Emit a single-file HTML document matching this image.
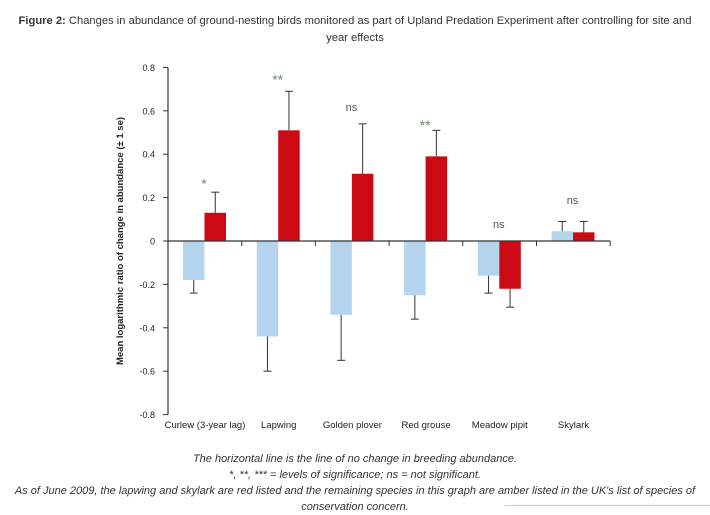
<!DOCTYPE html>
<html><head><meta charset="utf-8"><style>
body{margin:0;width:710px;height:514px;background:#fff;font-family:"Liberation Sans",sans-serif;overflow:hidden;position:relative}
#title{position:absolute;left:0;top:13px;width:710px;text-align:center;font-size:11.2px;color:#333;line-height:17px;white-space:nowrap}
#cap{position:absolute;left:0;top:451px;width:710px;text-align:center;font-size:11px;font-style:italic;color:#333;line-height:16px;white-space:nowrap}
svg{position:absolute;left:0;top:0}
</style></head><body>
<div id="title"><b>Figure 2:</b> Changes in abundance of ground-nesting birds monitored as part of Upland Predation Experiment after controlling for site and<br>year effects</div>
<svg id="chart" width="710" height="514"></svg>
<div id="cap">The horizontal line is the line of no change in breeding abundance.<br>*, **, *** = levels of significance; ns = not significant.<br>As of June 2009, the lapwing and skylark are red listed and the remaining species in this graph are amber listed in the UK's list of species of<br>conservation concern.</div>
<div style="position:absolute;left:505px;top:505px;width:205px;height:1px;background:#ccc"></div>
<script>
const categories=["Curlew (3-year lag)","Lapwing","Golden plover","Red grouse","Meadow pipit","Skylark"];
const blueVals=[-0.18,-0.44,-0.34,-0.25,-0.16,0.045];
const blueErr=[-0.24,-0.60,-0.55,-0.36,-0.24,0.09];
const redVals=[0.13,0.51,0.31,0.39,-0.22,0.04];
const redErr=[0.225,0.69,0.54,0.51,-0.305,0.09];
const sigLabels=["*","**","ns","**","ns","ns"];
const sigPos=[0.27,0.75,0.6,0.54,0.06,0.17];
const yTicks=[0.8,0.6,0.4,0.2,0,-0.2,-0.4,-0.6,-0.8];
const yTickLabels=["0.8","0.6","0.4","0.2","0","-0.2","-0.4","-0.6","-0.8"];
const svg=document.getElementById('chart');
const NS='http://www.w3.org/2000/svg';
const X0=168,GW=73.7,Y0=241,K=217;
const y=v=>Y0-v*K;
const gx=i=>X0+i*GW;
function mk(t,a,p){const e=document.createElementNS(NS,t);for(const k in a)e.setAttribute(k,a[k]);(p||svg).appendChild(e);return e;}
let ax=mk('line',{x1:X0,y1:y(0.8),x2:X0,y2:y(-0.8),stroke:'#333','stroke-width':1.2});

yTicks.forEach((v,i)=>{
 mk('line',{x1:X0-5,y1:y(v),x2:X0,y2:y(v),stroke:'#333'});
 const t=mk('text',{x:X0-13,y:y(v)+3.5,'text-anchor':'end','font-size':9,fill:'#222'});t.textContent=yTickLabels[i];
 
});
let yt=mk('text',{x:0,y:0,transform:'translate(123,241) rotate(-90)','text-anchor':'middle','font-size':9.5,'font-weight':'bold',fill:'#222'});
yt.textContent='Mean logarithmic ratio of change in abundance (± 1 se)';

categories.forEach((c,i)=>{
 const g=gx(i);
 const bw=21.5,bx=g+15,rx=g+36.5;
 const b=mk('rect',{x:bx,y:Math.min(y(0),y(blueVals[i])),width:bw,height:Math.abs(y(blueVals[i])-y(0)),fill:'#b5d5ee'});
 
 const r=mk('rect',{x:rx,y:Math.min(y(0),y(redVals[i])),width:bw,height:Math.abs(y(redVals[i])-y(0)),fill:'#cc0a14'});
 
 [[bx+bw/2,blueVals[i],blueErr[i]],[rx+bw/2,redVals[i],redErr[i]]].forEach(([cx,v,e])=>{
  const el=mk('line',{x1:cx,y1:y(v),x2:cx,y2:y(e),stroke:'#333','stroke-width':1});
  
  mk('line',{x1:cx-4,y1:y(e),x2:cx+4,y2:y(e),stroke:'#333','stroke-width':1});
 });
 const isNs=sigLabels[i]=='ns';
 const s=mk('text',{x:g+36,y:y(sigPos[i])+(isNs?0:6),'text-anchor':'middle','font-size':isNs?11:14,fill:isNs?'#555':'#6a8a6a'});
 s.textContent=sigLabels[i];
 const t=mk('text',{x:g+37,y:428,'text-anchor':'middle','font-size':9.5,fill:'#222'});t.textContent=c;
 
 mk('line',{x1:gx(i+1),y1:Y0,x2:gx(i+1),y2:Y0+5,stroke:'#333'});
});
let zl=mk('line',{x1:X0,y1:Y0,x2:gx(6),y2:Y0,stroke:'#333','stroke-width':1.2});

</script>
</body></html>
